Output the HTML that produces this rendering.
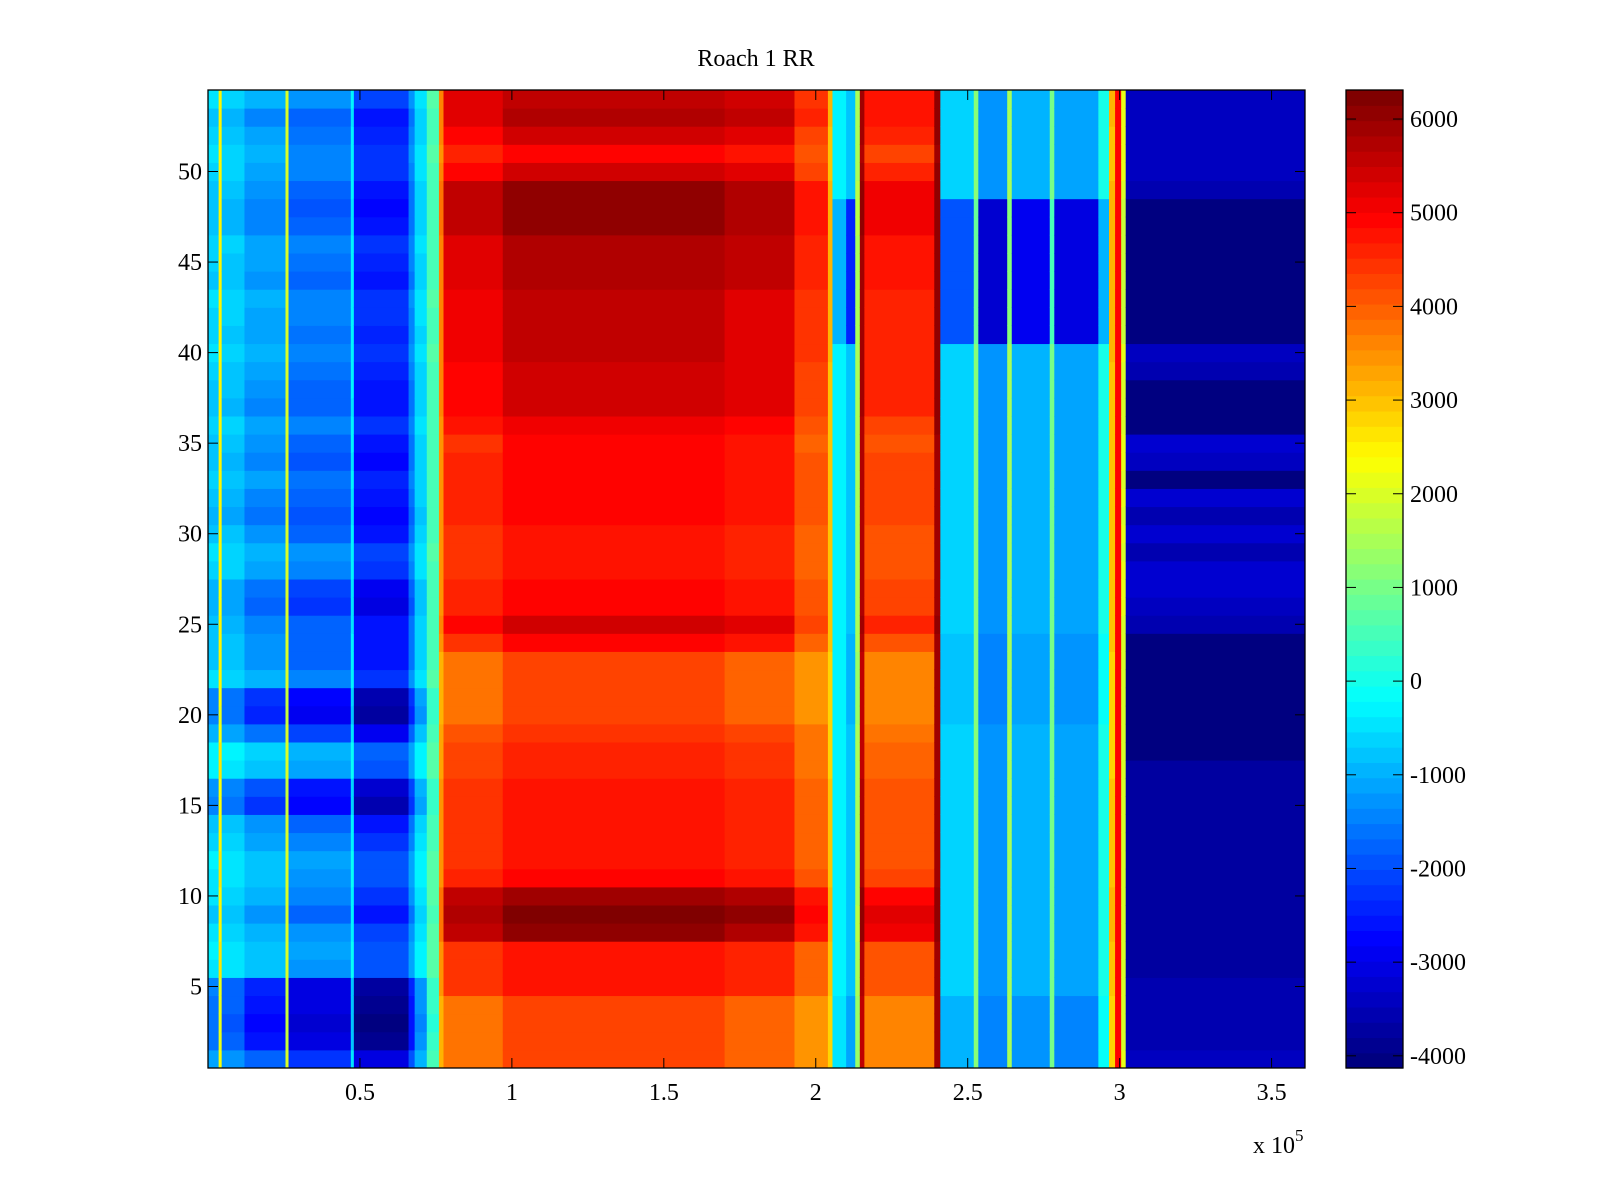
<!DOCTYPE html>
<html><head><meta charset="utf-8"><style>
body{margin:0;background:#fff;}
svg{display:block;font-family:"Liberation Serif",serif;}
</style></head><body>
<svg id="chart" width="1600" height="1200" xmlns="http://www.w3.org/2000/svg">
<text x="756" y="66" font-size="24" text-anchor="middle">Roach 1 RR</text>
<g id="cells"></g>
<g id="axes"></g>
<g id="cbar"></g>
</svg>
<script>
// x bands (start, in units of 1e5), base value, row group, row sensitivity
const bandStart=[0,0.035,0.045,0.12,0.255,0.265,0.47,0.48,0.66,0.68,0.72,0.76,0.775,0.97,1.70,1.93,2.04,2.055,2.10,2.13,2.145,2.16,2.39,2.41,2.52,2.535,2.63,2.645,2.77,2.785,2.93,2.965,2.985,3.005,3.02];
const bandValue=[-600,2500,-700,-1100,2000,-1500,-300,-2300,-1400,-500,600,3500,4800,5200,5000,4200,3000,-300,-800,1500,5800,4400,6000,-700,1200,-1200,1500,-900,1000,-1100,0,3000,5000,2000,-3800];
const bandGroup=[0,0,0,0,0,0,0,0,0,0,0,1,1,1,1,1,1,2,2,1,1,1,1,2,2,2,2,2,2,2,2,1,1,3,3];
const bandSens=[0.6,0.2,0.7,0.9,0.1,1,0.3,1,0.7,0.5,0.2,0.3,1,1,1,0.7,0.2,0.3,0.8,0.1,0.3,0.8,0.1,0.6,0.2,1,0.2,1,0.2,1,0.5,0.2,0,0.2,1];
const xEnd=3.61;
// row offsets (rows 1..54) per group
const rowBlue=[-800,-1600,-1800,-1600,-1500,300,400,200,-200,100,300,400,0,-200,-1300,-1000,400,500,-600,-1400,-1300,100,-200,-200,-300,-700,-600,0,200,-200,-500,-300,-100,-400,-200,0,-300,-200,-100,100,-100,0,100,-200,-100,0,-300,-400,-200,0,100,-100,-300,200];
const rowRed=[-1000,-1000,-1000,-1000,-400,-400,-400,800,1000,700,-200,-400,-400,-400,-400,-400,-600,-600,-700,-1000,-1000,-1000,-1000,-300,200,-200,-200,-400,-400,-400,-200,-200,-200,-200,-300,-100,200,200,200,300,300,300,300,500,500,500,800,800,800,200,-200,200,500,400];
const rowMid=[-300,-300,-300,-300,0,0,0,0,0,0,0,0,0,0,0,0,0,0,0,-200,-200,-200,-200,-200,0,0,0,0,0,0,0,0,0,0,0,0,0,0,0,0,-2000,-2000,-2000,-2000,-2000,-2000,-2000,-2000,0,0,0,0,0,0];
const rowRight=[400,300,300,300,300,0,0,0,0,0,0,0,0,0,0,0,0,-300,-300,-300,-300,-300,-300,-300,200,400,600,600,300,600,300,500,-200,400,500,-300,-300,-300,200,400,-500,-500,-500,-500,-500,-500,-500,-500,200,400,400,400,400,400];
const rowGroups=[rowBlue,rowRed,rowMid,rowRight];
const xTicks=[0.5,1,1.5,2,2.5,3,3.5];
const xTickLabels=["0.5","1","1.5","2","2.5","3","3.5"];
const yTicks=[5,10,15,20,25,30,35,40,45,50];
const cTicks=[-4000,-3000,-2000,-1000,0,1000,2000,3000,4000,5000,6000];

const NS="http://www.w3.org/2000/svg";
const L=208,R=1305,T=90,B=1068;
const cmin=-4130,cmax=6310;
const xs=v=>L+(v/xEnd)*(R-L);
const ys=v=>B-(v-0.5)/54*(B-T);
function jet(v){
  let t=(v-cmin)/(cmax-cmin);t=Math.max(0,Math.min(1,t));
  t=Math.min(63,Math.floor(t*64))/63;
  const f=x=>Math.max(0,Math.min(1,x));
  const r=f(1.5-Math.abs(4*t-3)),g=f(1.5-Math.abs(4*t-2)),b=f(1.5-Math.abs(4*t-1));
  return `rgb(${Math.round(r*255)},${Math.round(g*255)},${Math.round(b*255)})`;
}
function mk(tag,attrs,parent){const e=document.createElementNS(NS,tag);for(const k in attrs)e.setAttribute(k,attrs[k]);parent.appendChild(e);return e;}
const cells=document.getElementById('cells');
for(let i=0;i<bandStart.length;i++){
  const x0=xs(bandStart[i]),x1=xs(i+1<bandStart.length?bandStart[i+1]:xEnd);
  const rows=rowGroups[bandGroup[i]];
  for(let r=0;r<54;r++){
    const v=bandValue[i]+rows[r]*bandSens[i];
    const y0=ys(r+1.5),y1=ys(r+0.5);
    const el=mk('rect',{x:x0.toFixed(2),y:y0.toFixed(2),width:(x1-x0+0.5).toFixed(2),height:(y1-y0+0.5).toFixed(2),fill:jet(v)},cells);
    
    
  }
}
const axes=document.getElementById('axes');
const frame=mk('rect',{x:L,y:T,width:R-L,height:B-T,fill:'none',stroke:'#000','stroke-width':1.3},axes);


xTicks.forEach((v,i)=>{
  const x=xs(v);
  mk('line',{x1:x,y1:B,x2:x,y2:B-10,stroke:'#000'},axes);
  mk('line',{x1:x,y1:T,x2:x,y2:T+10,stroke:'#000'},axes);
  const t=mk('text',{x:x,y:B+32,'font-size':24,'text-anchor':'middle'},axes);
  t.textContent=xTickLabels[i];
  
  
});
yTicks.forEach(v=>{
  const y=ys(v);
  mk('line',{x1:L,y1:y,x2:L+10,y2:y,stroke:'#000'},axes);
  mk('line',{x1:R,y1:y,x2:R-10,y2:y,stroke:'#000'},axes);
  const t=mk('text',{x:L-6,y:y+8,'font-size':24,'text-anchor':'end'},axes);
  t.textContent=String(v);
  
  
});
const ex=mk('text',{x:1253,y:1153,'font-size':24},axes);
ex.innerHTML='x 10<tspan dy="-12" font-size="17">5</tspan>';


// colorbar
const cb=document.getElementById('cbar');
const CL=1346,CR=1403;
const cy=v=>B-(v-cmin)/(cmax-cmin)*(B-T);
for(let k=0;k<64;k++){
  const v0=cmin+(cmax-cmin)*k/64,v1=cmin+(cmax-cmin)*(k+1)/64;
  const el=mk('rect',{x:CL,y:cy(v1).toFixed(2),width:CR-CL,height:(cy(v0)-cy(v1)+0.6).toFixed(2),fill:jet((v0+v1)/2)},cb);
  
  
}
const cf=mk('rect',{x:CL,y:T,width:CR-CL,height:B-T,fill:'none',stroke:'#000','stroke-width':1.3},cb);


cTicks.forEach(v=>{
  const y=cy(v);
  mk('line',{x1:CL,y1:y,x2:CL+10,y2:y,stroke:'#000'},cb);
  mk('line',{x1:CR,y1:y,x2:CR-10,y2:y,stroke:'#000'},cb);
  const t=mk('text',{x:CR+7,y:y+8,'font-size':24},cb);
  t.textContent=String(v);
  
  
});
</script>
</body></html>
